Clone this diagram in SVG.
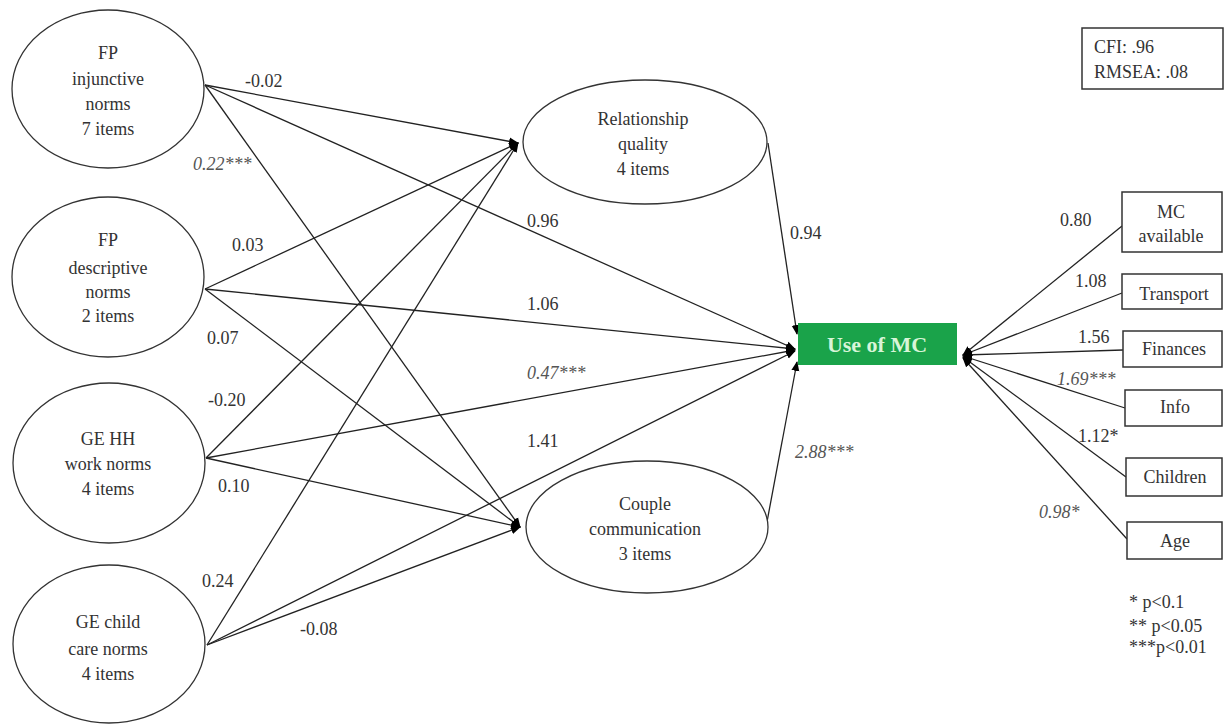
<svg xmlns="http://www.w3.org/2000/svg" width="1225" height="725" viewBox="0 0 1225 725" font-family="'Liberation Serif', 'Times New Roman', 'DejaVu Serif', serif">
<style>
  text { font-family: 'Liberation Serif', 'Times New Roman', 'DejaVu Serif', serif; font-size: 18px; fill: #333; }
  .n { text-anchor: middle; }
  .it { font-style: italic; fill: #555; }
  .node { fill: #fff; stroke: #333; stroke-width: 1.3; }
  .box { fill: #fff; stroke: #333; stroke-width: 1.5; }
  .e { fill: none; stroke: #222; stroke-width: 1.3; }
  .mc { font-weight: bold; font-size: 22px; fill: #d8f5d8; text-anchor: middle; }
</style>
<defs>
  <marker id="ah" markerUnits="userSpaceOnUse" markerWidth="10" markerHeight="10" viewBox="0 0 10 10" refX="9" refY="5" orient="auto">
    <path d="M0,1 L10,5 L0,9 Z" fill="#000"/>
  </marker>
</defs>
<rect width="1225" height="725" fill="#fff"/>

<g id="connectors">
  <line class="e" x1="205" y1="85" x2="518" y2="143" marker-end="url(#ah)"/>
  <line class="e" x1="205" y1="85" x2="795" y2="349" marker-end="url(#ah)"/>
  <line class="e" x1="205" y1="85" x2="520" y2="527" marker-end="url(#ah)"/>
  <line class="e" x1="205" y1="289" x2="518" y2="143" marker-end="url(#ah)"/>
  <line class="e" x1="205" y1="289" x2="795" y2="349" marker-end="url(#ah)"/>
  <line class="e" x1="205" y1="289" x2="520" y2="527" marker-end="url(#ah)"/>
  <line class="e" x1="206" y1="458" x2="518" y2="143" marker-end="url(#ah)"/>
  <line class="e" x1="206" y1="458" x2="795" y2="350" marker-end="url(#ah)"/>
  <line class="e" x1="206" y1="458" x2="520" y2="527" marker-end="url(#ah)"/>
  <line class="e" x1="207" y1="645" x2="518" y2="143" marker-end="url(#ah)"/>
  <line class="e" x1="207" y1="645" x2="795" y2="351" marker-end="url(#ah)"/>
  <line class="e" x1="207" y1="645" x2="520" y2="527" marker-end="url(#ah)"/>
  <line class="e" x1="768" y1="143" x2="797" y2="334" marker-end="url(#ah)"/>
  <line class="e" x1="767" y1="522" x2="797" y2="362" marker-end="url(#ah)"/>
  <line class="e" x1="1122" y1="226" x2="963" y2="355" marker-end="url(#ah)"/>
  <line class="e" x1="1122" y1="293" x2="963" y2="355" marker-end="url(#ah)"/>
  <line class="e" x1="1123" y1="350" x2="963" y2="355" marker-end="url(#ah)"/>
  <line class="e" x1="1125" y1="408" x2="963" y2="356" marker-end="url(#ah)"/>
  <line class="e" x1="1126" y1="477" x2="963" y2="357" marker-end="url(#ah)"/>
  <line class="e" x1="1127" y1="539" x2="963" y2="358" marker-end="url(#ah)"/>
</g>

<g id="edge-labels">
  <text x="245" y="87">-0.02</text>
  <text class="it" x="193" y="170">0.22***</text>
  <text x="232" y="251">0.03</text>
  <text x="207" y="344">0.07</text>
  <text x="208" y="406">-0.20</text>
  <text x="218" y="492">0.10</text>
  <text x="202" y="587">0.24</text>
  <text x="300" y="635">-0.08</text>
  <text x="527" y="227">0.96</text>
  <text x="527" y="310">1.06</text>
  <text class="it" x="527" y="379">0.47***</text>
  <text x="527" y="447">1.41</text>
  <text x="790" y="239">0.94</text>
  <text class="it" x="795" y="458">2.88***</text>
  <text x="1060" y="226">0.80</text>
  <text x="1075" y="287">1.08</text>
  <text x="1078" y="343">1.56</text>
  <text class="it" x="1057" y="385">1.69***</text>
  <text x="1078" y="442">1.12*</text>
  <text class="it" x="1039" y="518">0.98*</text>
</g>

<g id="fp-injunctive">
  <ellipse class="node" cx="108" cy="89" rx="96" ry="79"/>
  <text class="n" x="108" y="59">FP</text>
  <text class="n" x="108" y="85">injunctive</text>
  <text class="n" x="108" y="110">norms</text>
  <text class="n" x="108" y="135">7 items</text>
</g>
<g id="fp-descriptive">
  <ellipse class="node" cx="108" cy="277" rx="96" ry="80"/>
  <text class="n" x="108" y="246">FP</text>
  <text class="n" x="108" y="274">descriptive</text>
  <text class="n" x="108" y="298">norms</text>
  <text class="n" x="108" y="322">2 items</text>
</g>
<g id="ge-hh">
  <ellipse class="node" cx="109" cy="463" rx="96" ry="80"/>
  <text class="n" x="108" y="445">GE HH</text>
  <text class="n" x="108" y="470">work norms</text>
  <text class="n" x="108" y="495">4 items</text>
</g>
<g id="ge-child">
  <ellipse class="node" cx="109" cy="644" rx="96" ry="79"/>
  <text class="n" x="108" y="628">GE child</text>
  <text class="n" x="108" y="655">care norms</text>
  <text class="n" x="108" y="680">4 items</text>
</g>
<g id="relationship-quality">
  <ellipse class="node" cx="645" cy="142" rx="122" ry="62"/>
  <text class="n" x="643" y="125">Relationship</text>
  <text class="n" x="643" y="150">quality</text>
  <text class="n" x="643" y="175">4 items</text>
</g>
<g id="couple-communication">
  <ellipse class="node" cx="647" cy="527" rx="121" ry="66"/>
  <text class="n" x="645" y="510">Couple</text>
  <text class="n" x="645" y="535">communication</text>
  <text class="n" x="645" y="560">3 items</text>
</g>
<g id="use-of-mc">
  <rect x="798" y="323" width="159" height="42" fill="#1aa34a"/>
  <text class="mc" x="877" y="352">Use of MC</text>
</g>
<g id="mc-available">
  <rect class="box" x="1122" y="192" width="100" height="60"/>
  <text class="n" x="1171" y="218">MC</text>
  <text class="n" x="1171" y="242">available</text>
</g>
<g id="transport">
  <rect class="box" x="1122" y="274" width="100" height="35"/>
  <text class="n" x="1174" y="300">Transport</text>
</g>
<g id="finances">
  <rect class="box" x="1123" y="331" width="99" height="36"/>
  <text class="n" x="1174" y="355">Finances</text>
</g>
<g id="info">
  <rect class="box" x="1125" y="390" width="97" height="36"/>
  <text class="n" x="1175" y="413">Info</text>
</g>
<g id="children">
  <rect class="box" x="1126" y="458" width="96" height="38"/>
  <text class="n" x="1175" y="483">Children</text>
</g>
<g id="age">
  <rect class="box" x="1127" y="522" width="95" height="37"/>
  <text class="n" x="1175" y="547">Age</text>
</g>
<g id="fit-box">
  <rect class="box" x="1082" y="28" width="141" height="61"/>
  <text x="1094" y="53">CFI: .96</text>
  <text x="1094" y="78">RMSEA: .08</text>
</g>
<g id="legend">
  <text x="1129" y="608">* p&lt;0.1</text>
  <text x="1129" y="632">** p&lt;0.05</text>
  <text x="1129" y="653">***p&lt;0.01</text>
</g>
</svg>
